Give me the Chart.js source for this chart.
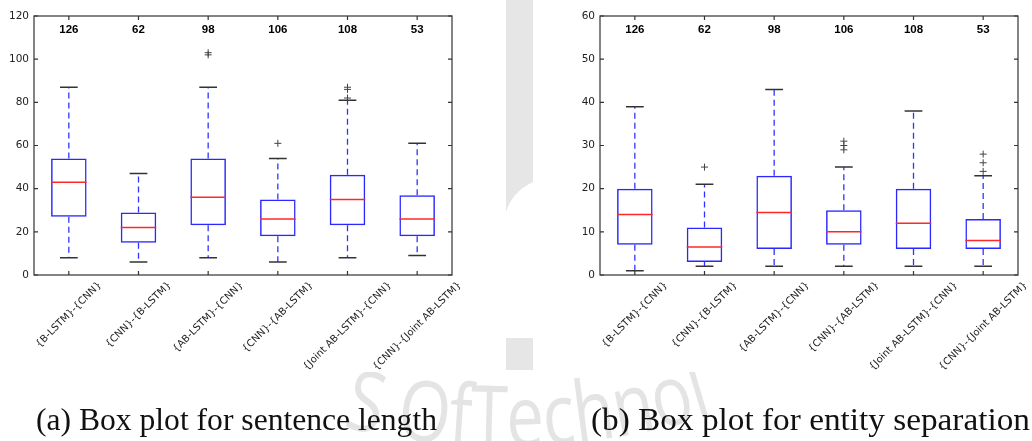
<!DOCTYPE html>
<html>
<head>
<meta charset="utf-8">
<script src="https://cdn.jsdelivr.net/npm/chart.js@4.4.0/dist/chart.umd.min.js"></script>
<style>
  html, body { margin: 0; padding: 0; background: #fff; }
  #page { position: relative; width: 1032px; height: 441px; overflow: hidden; background: #fff; }
  canvas { position: absolute; }
  #wm { left: 0; top: 0; }
  #chartA { left: 0; top: 0; }
  #chartB { left: 533px; top: 0; }
  .caption { position: absolute; white-space: nowrap; font-family: "Liberation Serif", serif; font-size: 31px; line-height: 31px; color: #111; transform-origin: left top; }
</style>
</head>
<body>
<div id="page">
  <canvas id="wm" width="1032" height="441"></canvas>
  <canvas id="chartA" width="506" height="380"></canvas>
  <canvas id="chartB" width="499" height="380"></canvas>
  <div class="caption" id="capA">(a) Box plot for sentence length</div>
  <div class="caption" id="capB">(b) Box plot for entity separation</div>
</div>
<script>
const categories = ['{B-LSTM}-{CNN}', '{CNN}-{B-LSTM}', '{AB-LSTM}-{CNN}', '{CNN}-{AB-LSTM}', '{Joint AB-LSTM}-{CNN}', '{CNN}-{Joint AB-LSTM}'];
const counts = [126, 62, 98, 106, 108, 53];

// (a) sentence length
const lenLow = [8, 6, 8, 6, 8, 9];
const lenQ1 = [27, 15, 23, 18, 23, 18];
const lenMedian = [43, 22, 36, 26, 35, 26];
const lenQ3 = [54, 29, 54, 35, 46.5, 37];
const lenHigh = [87, 47, 87, 54, 81, 61];
const lenOutliers = [[], [], [102, 103], [61], [82, 86, 87], []];

// (b) entity separation
const sepLow = [1, 2, 2, 2, 2, 2];
const sepQ1 = [7, 3, 6, 7, 6, 6];
const sepMedian = [14, 6.5, 14.5, 10, 12, 8];
const sepQ3 = [20, 11, 23, 15, 20, 13];
const sepHigh = [39, 21, 43, 25, 38, 23];
const sepOutliers = [[], [25], [], [29, 30, 31], [], [24, 26, 28]];

const BOX_FRACTION = 0.51;

function halfBox(chart) {
    return chart.scales.x.width / categories.length * BOX_FRACTION / 2;
}

function whiskerPoints(low, q1, q3, high) {
    const pts = [];
    categories.forEach((c, i) => {
        pts.push({x: c, y: q3[i]}, {x: c, y: high[i]}, {x: c, y: null});
        pts.push({x: c, y: q1[i]}, {x: c, y: low[i]}, {x: c, y: null});
    });
    return pts;
}

function capPoints(low, high) {
    return categories.flatMap((c, i) => [{x: c, y: high[i]}, {x: c, y: low[i]}]);
}

function outlierPoints(out) {
    return categories.flatMap((c, i) => out[i].map(v => ({x: c, y: v})));
}

// frame, inward ticks, counts and centred 45deg labels (matplotlib look)
const framePlugin = {
    id: 'frame',
    afterDraw(chart, args, opts) {
        const {ctx, chartArea: a, scales: {x, y}} = chart;
        ctx.save();
        ctx.strokeStyle = '#333';
        ctx.lineWidth = 1.2;
        ctx.beginPath();
        y.ticks.forEach((t, i) => {
            const py = y.getPixelForTick(i);
            ctx.moveTo(a.left, py); ctx.lineTo(a.left + 4, py);
            ctx.moveTo(a.right, py); ctx.lineTo(a.right - 4, py);
        });
        categories.forEach((c, i) => {
            const px = x.getPixelForValue(i);
            ctx.moveTo(px, a.bottom); ctx.lineTo(px, a.bottom - 4);
            ctx.moveTo(px, a.top); ctx.lineTo(px, a.top + 4);
        });
        ctx.stroke();
        ctx.strokeRect(a.left, a.top, a.right - a.left, a.bottom - a.top);

        ctx.fillStyle = '#000';
        ctx.font = 'bold 11.5px "Liberation Sans"';
        ctx.textAlign = 'center';
        ctx.textBaseline = 'middle';
        opts.counts.forEach((n, i) => ctx.fillText(String(n), x.getPixelForValue(i), a.top + 14));

        ctx.font = '10px "DejaVu Sans"';
        ctx.fillStyle = '#222';
        categories.forEach((c, i) => {
            const w = ctx.measureText(c).width;
            const ext = (w + 10) * Math.SQRT1_2;
            ctx.save();
            ctx.translate(x.getPixelForValue(i), a.bottom + 5 + ext / 2);
            ctx.rotate(-Math.PI / 4);
            ctx.fillText(c, 0, 0);
            ctx.restore();
        });
        ctx.restore();
    }
};

function makeBoxChart(id, low, q1, median, q3, high, outliers, yMax, yStep, padLeft, padRight) {
    const ctx = document.getElementById(id).getContext('2d');
    return new Chart(ctx, {
        data: {
            labels: categories,
            datasets: [
                {
                    type: 'bar',
                    data: categories.map((c, i) => [q1[i], q3[i]]),
                    backgroundColor: 'rgba(255,255,255,0)',
                    borderColor: 'rgb(40,40,255)',
                    borderWidth: 1.5,
                    borderSkipped: false,
                    barPercentage: BOX_FRACTION,
                    categoryPercentage: 1,
                    order: 2
                },
                {
                    type: 'line',
                    data: whiskerPoints(low, q1, q3, high),
                    borderColor: 'rgb(50,50,255)',
                    borderWidth: 1.3,
                    borderDash: [6, 4],
                    pointRadius: 0,
                    spanGaps: false,
                    order: 4
                },
                {
                    type: 'line',
                    data: capPoints(low, high),
                    showLine: false,
                    pointStyle: 'line',
                    pointRadius: c => halfBox(c.chart) / 2,
                    pointBorderColor: '#333',
                    pointBorderWidth: 1.5,
                    order: 3
                },
                {
                    type: 'line',
                    data: median,
                    showLine: false,
                    pointStyle: 'line',
                    pointRadius: c => halfBox(c.chart),
                    pointBorderColor: 'rgb(255,40,40)',
                    pointBorderWidth: 1.5,
                    order: 1
                },
                {
                    type: 'line',
                    data: outlierPoints(outliers),
                    showLine: false,
                    pointStyle: 'cross',
                    pointRadius: 3.5,
                    pointBorderColor: '#444',
                    pointBorderWidth: 1,
                    order: 0
                }
            ]
        },
        options: {
            responsive: false,
            animation: false,
            events: [],
            layout: { padding: { left: padLeft, top: 16, right: padRight, bottom: 0 } },
            scales: {
                x: {
                    type: 'category',
                    offset: true,
                    grid: { display: false, drawTicks: false },
                    border: { display: false },
                    ticks: { display: false },
                    afterFit: s => { s.height = 105; }
                },
                y: {
                    min: 0,
                    max: yMax,
                    grid: { display: false, drawTicks: false },
                    border: { display: false },
                    ticks: {
                        stepSize: yStep,
                        padding: 5,
                        color: '#222',
                        font: { family: 'DejaVu Sans', size: 10.5 }
                    },
                    afterFit: s => { s.width = 34; }
                }
            },
            plugins: {
                legend: { display: false },
                tooltip: { enabled: false },
                frame: { counts: counts }
            }
        },
        plugins: [framePlugin]
    });
}

// faint logo watermark showing between and below the panels
function drawWatermark() {
    const ctx = document.getElementById('wm').getContext('2d');
    ctx.fillStyle = '#e6e6e6';
    ctx.beginPath();
    ctx.moveTo(506, 0);
    ctx.lineTo(533, 0);
    ctx.lineTo(533, 182);
    ctx.quadraticCurveTo(512, 192, 506, 212);
    ctx.closePath();
    ctx.fill();
    ctx.fillRect(506, 338, 27, 32);

    ctx.save();
    ctx.beginPath();
    ctx.rect(0, 372, 1032, 69);
    ctx.clip();
    const text = 'S OfTechnol';
    const sx = 0.8;
    ctx.font = '84px "Open Sans"';
    ctx.fillStyle = '#e4e4e4';
    ctx.textAlign = 'center';
    ctx.textBaseline = 'alphabetic';
    const cx = 505, R = 700, cy = 446 - R;
    const before = ctx.measureText(text.slice(0, text.indexOf('T'))).width * sx;
    let cum = Math.asin((470 - cx) / R) * R - before;
    for (const ch of text) {
        const w = ctx.measureText(ch).width * sx;
        const th = (cum + w / 2) / R;
        ctx.save();
        ctx.translate(cx + R * Math.sin(th), cy + R * Math.cos(th));
        ctx.rotate(-th);
        ctx.scale(sx, 1);
        ctx.fillText(ch, 0, 0);
        ctx.restore();
        cum += w;
    }
    ctx.restore();
}

function placeCaption(id, left, right, top) {
    const el = document.getElementById(id);
    const w = el.getBoundingClientRect().width;
    el.style.left = left + 'px';
    el.style.top = top + 'px';
    el.style.transform = 'scaleX(' + ((right - left) / w) + ')';
}

drawWatermark();
makeBoxChart('chartA', lenLow, lenQ1, lenMedian, lenQ3, lenHigh, lenOutliers, 120, 20, 0, 54);
makeBoxChart('chartB', sepLow, sepQ1, sepMedian, sepQ3, sepHigh, sepOutliers, 60, 10, 33, 14);
placeCaption('capA', 36, 437, 404);
placeCaption('capB', 591, 1030, 404);
</script>
</body>
</html>
